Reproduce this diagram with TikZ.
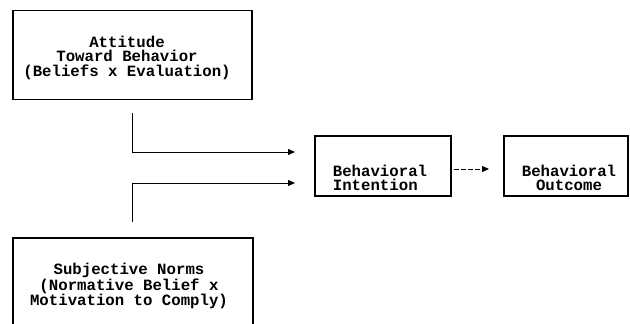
\documentclass[tikz,border=0pt]{standalone}
\usepackage{fontspec}
\setmonofont{Liberation Mono}
\usetikzlibrary{arrows.meta}
\begin{document}
\begin{tikzpicture}[x=1pt,y=-1pt,
  every node/.style={font=\ttfamily\bfseries\fontsize{15.7}{14.5}\selectfont},
  boxnode/.style={draw, line width=1.3pt, rectangle, inner sep=0pt},
  txt/.style={inner sep=0pt, align=center},
  conn/.style={line width=1pt, -{Triangle[length=7pt,width=6pt]}},
  dconn/.style={conn, dash pattern=on 5pt off 2pt}]
\clip (0,0) rectangle (630,324);
\fill[white] (0,0) rectangle (630,324);
% boxes
\node[boxnode, minimum width=239pt, minimum height=89pt] (att) at (132.5,55) {};
\node[txt] (atttext) at (127,57.5) {Attitude\\Toward Behavior\\(Beliefs x Evaluation)};
\node[boxnode, minimum width=240pt, minimum height=100pt] (sub) at (133,288) {};
\node[txt] (subtext) at (129,286) {Subjective Norms\\ (Normative Belief x\\Motivation to Comply)};
\node[boxnode, minimum width=136pt, minimum height=60pt] (bi) at (383,166) {};
\node[txt, align=left] (bitext) at (380,178) {Behavioral\\Intention};
\node[boxnode, minimum width=124pt, minimum height=60pt] (bo) at (566,166) {};
\node[txt] (botext) at (569,178) {Behavioral\\Outcome};
% connectors
\coordinate (a1s) at (132,113);
\coordinate (a1e) at (295,152);
\coordinate (a2s) at (132,222);
\coordinate (a2e) at (295,183);
\draw[conn] (a1s) |- (a1e);
\draw[conn] (a2s) |- (a2e);
\coordinate (d1e) at (489,169);
\draw[dconn] (bi.east |- d1e) ++(2,0) -- (d1e);
\end{tikzpicture}
\end{document}
